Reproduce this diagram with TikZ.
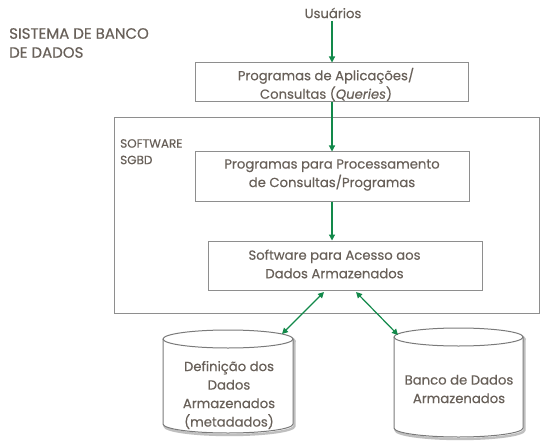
\documentclass[tikz,border=0pt]{standalone}
\usepackage{fontspec}
\setmainfont{Poppins}[FakeBold=0.35]
\usetikzlibrary{arrows.meta}
\definecolor{txt}{HTML}{686059}
\definecolor{grn}{HTML}{12894A}
\definecolor{brd}{HTML}{8E8E8E}
\definecolor{cyl}{HTML}{7A7A7A}
\tikzset{
  lbl/.style={text=txt, inner sep=0pt, align=center, font=\fontsize{13.2}{18.5}\selectfont},
  box/.style={draw=brd, line width=1pt, inner sep=0pt},
  flow/.style={draw=grn, line width=1.2pt, -{Triangle[width=6pt,length=6pt]}},
  dflow/.style={draw=grn, line width=1.2pt, {Triangle[width=6pt,length=6pt]}-{Triangle[width=6pt,length=6pt]}},
  cylline/.style={draw=cyl, line width=1pt},
  cylshadow/.style={draw=black!25, line width=2.4pt},
}
\begin{document}
\begin{tikzpicture}[x=1pt,y=-1pt]
\useasboundingbox[fill=white] (0,0) rectangle (553,446);

% title
\node[lbl, anchor=west, align=left, font=\fontsize{15}{19}\selectfont] (title) at (9,43) {SISTEMA DE BANCO\\DE DADOS};

% users
\node[lbl] (users) at (333,13) {Usuários};

% outer SGBD box
\node[box, minimum width=425pt, minimum height=195pt] (sgbd) at (326.5,215.5) {};
\node[lbl, anchor=north west, align=left, font=\fontsize{12}{16.5}\selectfont] (sgbdlbl) at (120,139) {SOFTWARE\\SGBD};

% boxes
\node[box, minimum width=273pt, minimum height=39pt] (b1) at (331.5,82.5) {};
\node[lbl] (t1) at (326,84.5) {Programas de Aplicações/\\Consultas (\textit{Queries})};

\node[box, minimum width=274pt, minimum height=49pt] (b2) at (332,176.5) {};
\node[lbl] (t2) at (332,175) {Programas para Processamento\\de Consultas/Programas};

\node[box, minimum width=274pt, minimum height=49pt] (b3) at (345,265.5) {};
\node[lbl] (t3) at (334.5,264) {Software para Acesso aos\\Dados Armazenados};

% cylinders
\foreach \cx/\cy/\rx/\bot in {228/339/65/424, 458.5/337/64.5/428}{
  \begin{scope}[shift={(1.5,2)}]
    \draw[cylshadow] (\cx-\rx,\cy) -- (\cx-\rx,\bot) arc[start angle=180, end angle=360, x radius=\rx pt, y radius=9pt] -- (\cx+\rx,\cy);
    \draw[cylshadow] (\cx,\cy) ellipse[x radius=\rx pt, y radius=9pt];
  \end{scope}
  \fill[white] (\cx-\rx,\cy) -- (\cx-\rx,\bot) arc[start angle=180, end angle=360, x radius=\rx pt, y radius=9pt] -- (\cx+\rx,\cy) -- cycle;
  \draw[cylline, fill=white] (\cx,\cy) ellipse[x radius=\rx pt, y radius=9pt];
  \draw[cylline] (\cx-\rx,\cy) -- (\cx-\rx,\bot) arc[start angle=180, end angle=360, x radius=\rx pt, y radius=9pt] -- (\cx+\rx,\cy);
}
\node[lbl] (c1) at (229,395) {Definição dos\\Dados\\Armazenados\\(metadados)};
\node[lbl] (c2) at (459,389) {Banco de Dados\\Armazenados};

% connectors
\coordinate (b3l) at (324,292);
\coordinate (b3r) at (356,292);
\coordinate (c1top) at (282,334);
\coordinate (c2top) at (398,335);
\draw[flow] (332,21) -- (b1.north -| 332,0);
\draw[flow] (b1.south -| 332,0) -- (b2.north -| 332,0);
\draw[flow] (b2.south -| 332,0) -- (b3.north -| 332,0);
\draw[dflow] (b3l) -- (c1top);
\draw[dflow] (b3r) -- (c2top);
\end{tikzpicture}
\end{document}
